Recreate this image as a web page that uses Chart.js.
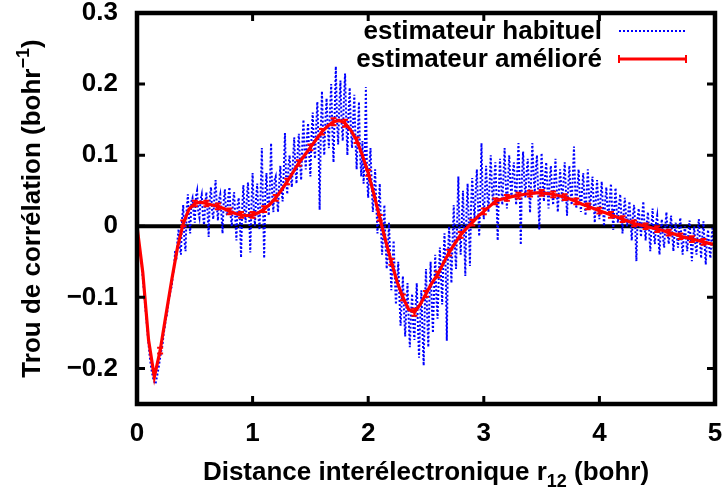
<!DOCTYPE html>
<html>
<head>
<meta charset="utf-8">
<script src="https://cdn.jsdelivr.net/npm/chart.js@4.4.1/dist/chart.umd.min.js"></script>
<style>
  html, body { margin: 0; padding: 0; background: #fff; }
  #wrap { width: 728px; height: 492px; }
</style>
</head>
<body>
<div id="wrap"><canvas id="chart" width="728" height="492"></canvas></div>
<script>
// axis ticks
const xTicks = [0, 1, 2, 3, 4, 5];
const yTicks = [-0.2, -0.1, 0, 0.1, 0.2, 0.3];

// "estimateur amélioré" : x step 0.05 from 0 to 5
const improvedStep = 0.05;
const improved = [
  0.000, -0.065, -0.160, -0.212, -0.175, -0.125, -0.076, -0.030, 0.004, 0.024,
  0.032, 0.034, 0.032, 0.030, 0.028, 0.025, 0.021, 0.018, 0.016, 0.015,
  0.016, 0.019, 0.024, 0.031, 0.040, 0.051, 0.063, 0.076, 0.089, 0.100,
  0.111, 0.122, 0.133, 0.141, 0.147, 0.149, 0.145, 0.135, 0.121, 0.100,
  0.075, 0.045, 0.012, -0.020, -0.050, -0.078, -0.100, -0.117, -0.121, -0.110,
  -0.095, -0.080, -0.068, -0.052, -0.037, -0.024, -0.012, -0.003, 0.005, 0.014,
  0.021, 0.028, 0.035, 0.038, 0.040, 0.042, 0.043, 0.045, 0.046, 0.047,
  0.047, 0.046, 0.045, 0.043, 0.041, 0.038, 0.035, 0.031, 0.028, 0.025,
  0.022, 0.019, 0.016, 0.013, 0.010, 0.007, 0.004, 0.002, 0.000, -0.002,
  -0.004, -0.006, -0.009, -0.011, -0.014, -0.016, -0.018, -0.020, -0.022, -0.024,
  -0.026
];
// error bars of the improved estimator (0 = none drawn)
const improvedErr = [
  0, 0, 0, 0, 0.004, 0, 0, 0, 0.004, 0,
  0.004, 0, 0.004, 0, 0.004, 0, 0.004, 0, 0.004, 0,
  0.004, 0, 0.004, 0, 0.004, 0, 0.004, 0, 0.004, 0,
  0.004, 0, 0.004, 0, 0.005, 0, 0.005, 0, 0.004, 0,
  0.004, 0, 0.004, 0, 0.004, 0, 0.004, 0, 0.005, 0,
  0.004, 0, 0.004, 0, 0.004, 0, 0.004, 0, 0.004, 0,
  0.004, 0, 0.004, 0, 0.004, 0, 0.004, 0, 0.004, 0,
  0.004, 0, 0.004, 0, 0.004, 0, 0.004, 0, 0.004, 0,
  0.004, 0, 0.004, 0, 0.004, 0, 0.004, 0, 0.004, 0,
  0.004, 0, 0.004, 0, 0.004, 0, 0.004, 0, 0.004, 0,
  0
];

// "estimateur habituel" : x step 0.01 from 0 to 5
const usualStep = 0.01;
const usual = [
  0.000, -0.013, -0.028, -0.040, -0.052, -0.072, -0.090, -0.110, -0.128, -0.148, -0.166, -0.183, -0.196, -0.206, -0.214, -0.219, -0.222, -0.214, -0.205, -0.196,
  -0.185, -0.175, -0.168, -0.152, -0.142, -0.130, -0.124, -0.108, -0.100, -0.090, -0.085, -0.068, -0.060, -0.035, -0.048, -0.020, -0.004, -0.030, -0.040, 0.010,
  0.030, -0.020, -0.035, 0.025, 0.045, 0.010, -0.010, 0.035, 0.040, 0.018, 0.005, 0.042, 0.050, 0.020, 0.012, 0.038, 0.045, 0.015, 0.002, 0.030,
  0.048, 0.020, -0.015, 0.040, 0.055, 0.022, 0.010, 0.045, 0.065, 0.030, 0.008, 0.038, 0.045, 0.018, -0.010, 0.035, 0.052, 0.020, 0.015, 0.042,
  0.055, 0.015, 0.000, 0.035, 0.048, 0.012, -0.020, 0.030, 0.040, 0.010, -0.044, 0.025, 0.058, 0.020, 0.005, 0.040, 0.062, 0.018, -0.037, 0.030,
  0.075, 0.025, 0.000, 0.040, 0.060, 0.015, -0.005, 0.050, 0.110, 0.030, -0.045, 0.045, 0.075, 0.035, 0.015, 0.060, 0.117, 0.040, 0.020, 0.065,
  0.070, 0.040, 0.020, 0.060, 0.085, 0.050, 0.035, 0.080, 0.131, 0.065, 0.045, 0.085, 0.100, 0.070, 0.055, 0.095, 0.125, 0.080, 0.060, 0.105,
  0.130, 0.090, 0.065, 0.115, 0.150, 0.105, 0.080, 0.125, 0.145, 0.100, 0.070, 0.130, 0.160, 0.115, 0.095, 0.140, 0.175, 0.120, 0.023, 0.135,
  0.190, 0.130, 0.100, 0.150, 0.180, 0.140, 0.110, 0.165, 0.200, 0.135, 0.090, 0.160, 0.225, 0.150, 0.115, 0.170, 0.205, 0.145, 0.120, 0.180,
  0.215, 0.150, 0.100, 0.160, 0.195, 0.140, 0.110, 0.150, 0.185, 0.120, 0.080, 0.130, 0.175, 0.100, 0.070, 0.120, 0.060, 0.095, 0.196, 0.070,
  0.040, 0.085, 0.110, 0.060, 0.020, 0.050, 0.080, 0.030, -0.010, 0.025, 0.060, 0.000, -0.040, -0.010, 0.030, -0.025, -0.060, -0.030, 0.005, -0.045,
  -0.090, -0.055, -0.020, -0.070, -0.110, -0.080, -0.050, -0.100, -0.140, -0.105, -0.070, -0.120, -0.155, -0.115, -0.080, -0.130, -0.170, -0.125, -0.095, -0.140,
  -0.160, -0.115, -0.080, -0.140, -0.185, -0.130, -0.090, -0.150, -0.196, -0.110, -0.060, -0.125, -0.170, -0.100, -0.050, -0.110, -0.150, -0.090, -0.040, -0.100,
  -0.130, -0.075, -0.030, -0.070, -0.110, -0.050, -0.010, -0.060, -0.161, -0.040, 0.000, -0.040, -0.080, -0.020, 0.030, -0.030, -0.060, 0.010, 0.070, -0.005,
  -0.040, 0.010, 0.050, -0.010, -0.070, 0.020, 0.060, 0.005, -0.056, 0.030, 0.068, 0.035, 0.010, 0.050, 0.080, 0.030, -0.014, 0.045, 0.117, 0.040,
  0.010, 0.050, 0.085, 0.045, 0.020, 0.060, 0.100, 0.055, 0.030, 0.065, 0.090, 0.040, -0.020, 0.050, 0.095, 0.060, 0.030, 0.070, 0.110, 0.060,
  0.025, 0.065, 0.100, 0.060, 0.040, 0.075, 0.090, 0.055, 0.030, 0.080, 0.117, 0.060, -0.026, 0.070, 0.105, 0.065, 0.040, 0.075, 0.095, 0.060,
  0.019, 0.070, 0.117, 0.075, 0.045, 0.080, 0.100, 0.050, -0.005, 0.060, 0.103, 0.065, 0.035, 0.070, 0.090, 0.055, 0.025, 0.065, 0.085, 0.050,
  0.030, 0.065, 0.095, 0.055, 0.020, 0.050, 0.080, 0.055, 0.035, 0.065, 0.090, 0.050, 0.015, 0.055, 0.085, 0.050, 0.030, 0.070, 0.112, 0.055,
  0.025, 0.055, 0.080, 0.045, 0.020, 0.050, 0.075, 0.040, 0.015, 0.050, 0.080, 0.045, 0.025, 0.050, 0.070, 0.035, 0.005, 0.040, 0.065, 0.035,
  0.010, 0.040, 0.063, 0.030, 0.000, 0.035, 0.055, 0.025, 0.015, 0.040, 0.060, 0.025, -0.005, 0.030, 0.054, 0.020, 0.005, 0.030, 0.045, 0.015,
  -0.010, 0.020, 0.040, 0.015, 0.000, 0.020, 0.035, 0.005, -0.020, 0.015, 0.030, 0.000, -0.049, 0.010, 0.025, 0.005, -0.015, 0.015, 0.035, 0.000,
  -0.020, 0.005, 0.020, -0.005, -0.035, 0.000, 0.025, -0.010, -0.025, 0.005, 0.015, -0.015, -0.040, -0.005, 0.010, -0.015, -0.030, 0.000, 0.020, -0.010,
  -0.025, -0.005, 0.015, -0.010, -0.035, -0.010, 0.005, -0.015, -0.030, -0.005, 0.012, -0.020, -0.040, -0.015, 0.000, -0.020, -0.035, -0.010, 0.008, -0.020,
  -0.049, -0.020, 0.000, -0.025, -0.040, -0.010, 0.010, -0.020, -0.045, -0.015, 0.007, -0.025, -0.054, -0.020, -0.005, -0.030, -0.045, -0.015, 0.000, -0.035,
  -0.030
];

const FONT = '"Liberation Sans", Arial, Helvetica, sans-serif';

const toPoints = (vals, step) => vals.map((v, i) => ({ x: +(i * step).toFixed(3), y: v }));
const fmt = v => (v < 0 ? '\u2212' : '') + Math.abs(v);

// gnuplot-like frame: zero line, thick border, inward ticks, axis titles and legend
const gnuFrame = {
  id: 'gnuFrame',
  beforeDatasetsDraw(chart) {
    const { ctx, chartArea: a, scales: { y } } = chart;
    const y0 = y.getPixelForValue(0);
    ctx.save();
    ctx.strokeStyle = '#000';
    ctx.lineWidth = 4;
    ctx.beginPath();
    ctx.moveTo(a.left, y0);
    ctx.lineTo(a.right, y0);
    ctx.stroke();
    ctx.restore();
  },
  afterDatasetsDraw(chart) {
    const { ctx, chartArea: a, scales: { x, y } } = chart;
    ctx.save();
    // error bars of the improved estimator
    const meta = chart.getDatasetMeta(0);
    ctx.strokeStyle = '#ff0000';
    ctx.lineWidth = 2;
    meta.data.forEach((pt, i) => {
      const e = improvedErr[i];
      if (!e) return;
      const v = improved[i];
      const yt = y.getPixelForValue(v + e), yb = y.getPixelForValue(v - e);
      ctx.beginPath();
      ctx.moveTo(pt.x, yt); ctx.lineTo(pt.x, yb);
      ctx.moveTo(pt.x - 3, yt); ctx.lineTo(pt.x + 3, yt);
      ctx.moveTo(pt.x - 3, yb); ctx.lineTo(pt.x + 3, yb);
      ctx.stroke();
    });
    // border
    ctx.strokeStyle = '#000';
    ctx.lineWidth = 4.5;
    ctx.strokeRect(a.left, a.top, a.right - a.left, a.bottom - a.top);
    // inward ticks on all four sides
    ctx.lineWidth = 3;
    const L = 8;
    ctx.beginPath();
    xTicks.forEach(v => {
      const px = x.getPixelForValue(v);
      ctx.moveTo(px, a.bottom); ctx.lineTo(px, a.bottom - L);
      ctx.moveTo(px, a.top); ctx.lineTo(px, a.top + L);
    });
    yTicks.forEach(v => {
      const py = y.getPixelForValue(v);
      ctx.moveTo(a.left, py); ctx.lineTo(a.left + L, py);
      ctx.moveTo(a.right, py); ctx.lineTo(a.right - L, py);
    });
    ctx.stroke();
    ctx.restore();
  },
  afterDraw(chart) {
    const { ctx, chartArea: a } = chart;
    ctx.save();
    ctx.fillStyle = '#000';
    const big = 'bold 26px ' + FONT;
    const small = 'bold 18px ' + FONT;

    // x title with subscript
    const xParts = [
      ['Distance interélectronique r', big, 0],
      ['12', small, 7],
      [' (bohr)', big, 0]
    ];
    let w = 0;
    xParts.forEach(p => { ctx.font = p[1]; w += ctx.measureText(p[0]).width; });
    let cx = (a.left + a.right) / 2 - w / 2;
    ctx.textBaseline = 'alphabetic';
    xParts.forEach(p => {
      ctx.font = p[1];
      ctx.fillText(p[0], cx, 480 + p[2]);
      cx += ctx.measureText(p[0]).width;
    });

    // y title with superscript, rotated
    const yParts = [
      ['Trou de corrélation (bohr', big, 0],
      ['\u22121', small, -11],
      [')', big, 0]
    ];
    w = 0;
    yParts.forEach(p => { ctx.font = p[1]; w += ctx.measureText(p[0]).width; });
    ctx.translate(40, (a.top + a.bottom) / 2);
    ctx.rotate(-Math.PI / 2);
    cx = -w / 2;
    yParts.forEach(p => {
      ctx.font = p[1];
      ctx.fillText(p[0], cx, p[2]);
      cx += ctx.measureText(p[0]).width;
    });
    ctx.setTransform(1, 0, 0, 1, 0, 0);

    // legend: text then sample, top right
    const rows = [
      { ds: chart.data.datasets[1], y: a.top + 18, bars: false },
      { ds: chart.data.datasets[0], y: a.top + 46, bars: true }
    ];
    ctx.font = big;
    ctx.textAlign = 'right';
    ctx.textBaseline = 'middle';
    rows.forEach(r => {
      ctx.fillStyle = '#000';
      ctx.fillText(r.ds.label, a.right - 113, r.y + 1);
      const x1 = a.right - 96, x2 = a.right - 29;
      ctx.strokeStyle = r.ds.borderColor;
      ctx.lineWidth = r.ds.borderWidth;
      ctx.setLineDash(r.ds.borderDash || []);
      ctx.beginPath();
      ctx.moveTo(x1, r.y); ctx.lineTo(x2, r.y);
      ctx.stroke();
      ctx.setLineDash([]);
      if (r.bars) {
        ctx.lineWidth = 2;
        ctx.beginPath();
        ctx.moveTo(x1, r.y - 4); ctx.lineTo(x1, r.y + 4);
        ctx.moveTo(x2, r.y - 4); ctx.lineTo(x2, r.y + 4);
        ctx.stroke();
      }
    });
    ctx.restore();
  }
};

new Chart(document.getElementById('chart'), {
  type: 'line',
  data: {
    datasets: [
      {
        label: 'estimateur amélioré',
        data: toPoints(improved, improvedStep),
        borderColor: '#ff0000',
        borderWidth: 3.2,
        pointRadius: 0,
        tension: 0,
        order: 0
      },
      {
        label: 'estimateur habituel',
        data: toPoints(usual, usualStep),
        borderColor: '#0000ff',
        borderWidth: 2,
        borderDash: [2, 2],
        pointRadius: 0,
        tension: 0,
        order: 1
      }
    ]
  },
  options: {
    responsive: false,
    animation: false,
    devicePixelRatio: 1,
    layout: { padding: { top: 13, right: 13, left: 0, bottom: 0 } },
    plugins: { legend: { display: false }, tooltip: { enabled: false } },
    scales: {
      x: {
        type: 'linear',
        min: 0,
        max: 5,
        afterBuildTicks: s => { s.ticks = xTicks.map(v => ({ value: v })); },
        afterFit: s => { s.height = 88; s.paddingLeft = 0; s.paddingRight = 0; },
        grid: { display: false, drawTicks: false },
        border: { display: false },
        ticks: {
          color: '#000',
          padding: 14,
          maxRotation: 0,
          font: { family: FONT, size: 26, weight: 'bold' },
          callback: v => fmt(v)
        }
      },
      y: {
        type: 'linear',
        min: -0.25,
        max: 0.3,
        afterBuildTicks: s => { s.ticks = yTicks.map(v => ({ value: v })); },
        afterFit: s => { s.width = 137; s.paddingTop = 0; s.paddingBottom = 0; },
        grid: { display: false, drawTicks: false },
        border: { display: false },
        ticks: {
          color: '#000',
          padding: 19,
          font: { family: FONT, size: 26, weight: 'bold' },
          callback: v => fmt(v)
        }
      }
    }
  },
  plugins: [gnuFrame]
});
</script>
</body>
</html>
